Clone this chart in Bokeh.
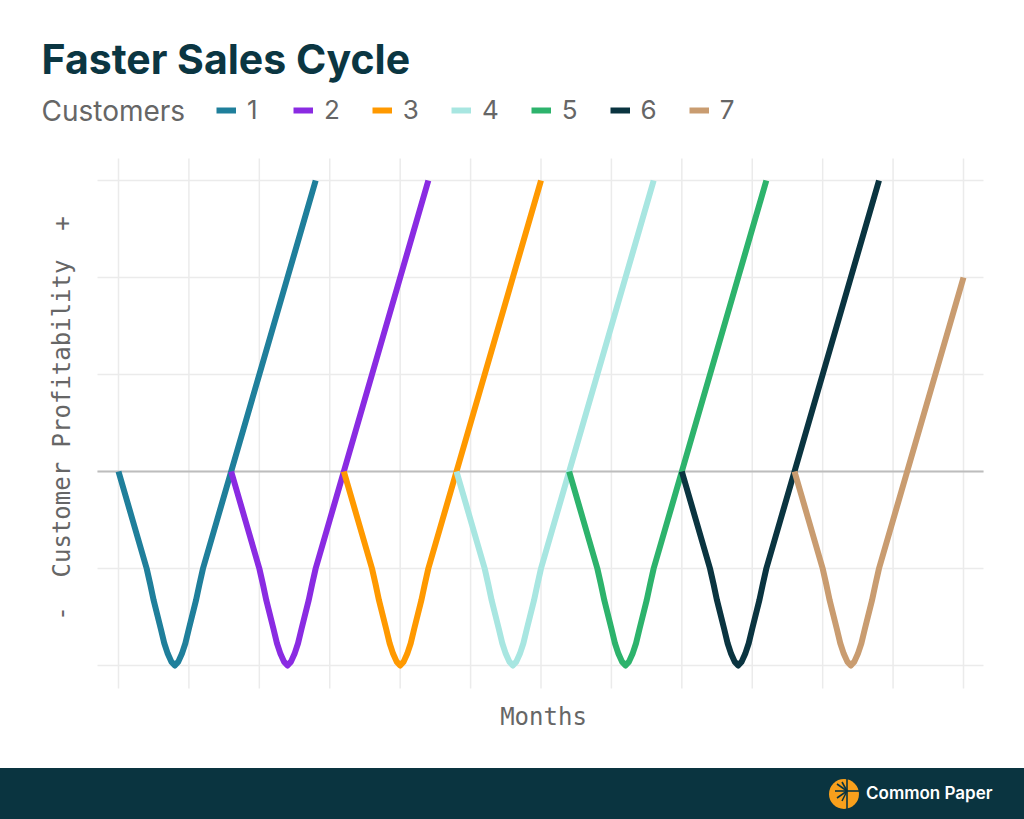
import math
from bokeh.plotting import figure
from bokeh.models import Legend, LegendItem, Label, Range1d, Div
from bokeh.layouts import column
from bokeh.embed import file_html
from bokeh.resources import INLINE

# ---- data ----
customers = ["1", "2", "3", "4", "5", "6", "7"]
colors = ["#1F7F9B", "#8A2BE2", "#FF9900", "#A8E6E1", "#2DB36C", "#0A3440", "#C99C70"]
start_month = [0, 8, 16, 24, 32, 40, 48]
last_month = 60
# profitability profile of one customer, months since signing
profile_months = [0, 1, 2, 2.25, 2.5, 3, 3.25, 3.5, 3.75, 4, 4.25, 4.5, 4.75, 5, 5.5, 5.75, 6, 7, 8, 10, 12, 14]
profile_values = [0, -0.5, -1, -1.16, -1.33, -1.62, -1.77, -1.88, -1.96, -2, -1.96, -1.88, -1.77, -1.62,
                  -1.33, -1.16, -1, -0.5, 0, 1, 2, 3]
x_grid = [0, 5, 10, 15, 20, 25, 30, 35, 40, 45, 50, 55, 60]
y_grid = [-2, -1, 0, 1, 2, 3]
title_text = "Faster Sales Cycle"
legend_title = "Customers"
x_label = "Months"
y_label = "-\u00a0 Customer Profitability \u00a0+"

# ---- layout constants (pixels) ----
W, H = 1024, 768
X0_PX, PX_PER_MONTH = 118.0, (963.0 - 118.0) / 60.0
Y0_PX, PX_PER_UNIT = 471.0, 97.0
PANEL_L, PANEL_R, PANEL_T, PANEL_B = 97, 983, 158, 688
LINE_W = 6


def xm(px):
    return (px - X0_PX) / PX_PER_MONTH


def yu(py):
    return (Y0_PX - py) / PX_PER_UNIT


p = figure(width=W, height=H, output_backend="svg", toolbar_location=None,
           x_range=Range1d(xm(0), xm(W)), y_range=Range1d(yu(H), yu(0)),
           x_axis_location=None, y_axis_location=None,
           min_border=0, min_border_left=0, min_border_right=0,
           min_border_top=0, min_border_bottom=0)
p.grid.visible = False
p.outline_line_color = None
p.background_fill_color = "white"
p.border_fill_color = "white"

# panel grid
p.segment(x0=x_grid, y0=[yu(PANEL_B)] * len(x_grid), x1=x_grid, y1=[yu(PANEL_T)] * len(x_grid),
          line_color="#EBEBEB", line_width=1.5)
p.segment(x0=[xm(PANEL_L)] * len(y_grid), y0=y_grid, x1=[xm(PANEL_R)] * len(y_grid), y1=y_grid,
          line_color="#EBEBEB", line_width=1.5)
p.segment(x0=[xm(PANEL_L)], y0=[0], x1=[xm(PANEL_R)], y1=[0], line_color="#BDBDBD", line_width=2)

items = []
for name, col, s in zip(customers, colors, start_month):
    xs = [s + m for m in profile_months if s + m <= last_month]
    ys = [v for m, v in zip(profile_months, profile_values) if s + m <= last_month]
    r = p.line(xs, ys, line_color=col, line_width=LINE_W, line_join="round", line_cap="butt")
    items.append(LegendItem(label=name, renderers=[r]))

# axis titles
p.add_layout(Label(x=543, y=H - 716, x_units="screen", y_units="screen", text=x_label,
                   text_font="DejaVu Sans Mono", text_font_size="24px", text_color="#666666",
                   text_align="center", text_baseline="middle"))
p.add_layout(Label(x=61, y=H - 418, x_units="screen", y_units="screen", text=y_label,
                   angle=math.pi / 2, angle_units="rad",
                   text_font="DejaVu Sans Mono", text_font_size="24px", text_color="#666666",
                   text_align="center", text_baseline="middle"))

# title
p.add_layout(Label(x=41, y=H - 58, x_units="screen", y_units="screen", text=title_text,
                   text_font="Inter", text_font_size="41px", text_font_style="bold",
                   text_color="#0B3642", text_baseline="middle"))

# legend
p.add_layout(Label(x=41, y=H - 110, x_units="screen", y_units="screen", text=legend_title,
                   text_font="Inter", text_font_size="28px", text_color="#666666",
                   text_baseline="middle"))
legend = Legend(items=items, orientation="horizontal", location=(216, H - 110 - 15),
                label_text_font="Inter", label_text_font_size="26px", label_text_color="#666666",
                glyph_width=20, glyph_height=30, label_height=30, label_width=14,
                label_standoff=11, spacing=32, padding=0, margin=0,
                border_line_color=None, background_fill_alpha=0)
p.add_layout(legend, "center")

footer_html = """
<div style="position:fixed;left:0px;top:768px;width:1024px;height:51px;background:#0A3440;">
  <svg width="32" height="32" viewBox="-16 -16 32 32" style="position:absolute;left:828px;top:10px;">
    <circle cx="0" cy="0" r="15" fill="#F8A01C"/>
    <g stroke="#0A3440" stroke-width="1.6" fill="none">
      <line x1="3" y1="-15" x2="3" y2="15"/>
      <line x1="3" y1="-3" x2="15" y2="-3"/>
      <line x1="3" y1="-3" x2="-9" y2="-3"/>
      <line x1="3" y1="-3" x2="-7" y2="-10"/>
      <line x1="3" y1="-3" x2="-7" y2="4"/>
      <line x1="3" y1="-3" x2="-2" y2="-12"/>
      <line x1="3" y1="-3" x2="-2" y2="7"/>
    </g>
  </svg>
  <span style="position:absolute;left:866px;top:13px;color:#FFFFFF;font-family:Inter, sans-serif;
  font-size:17px;font-weight:600;line-height:24px;">Common Paper</span>
</div>
"""
footer = Div(text=footer_html, width=W, height=1)

layout = column(p, footer)
open("out.html", "w").write(file_html(layout, INLINE))
